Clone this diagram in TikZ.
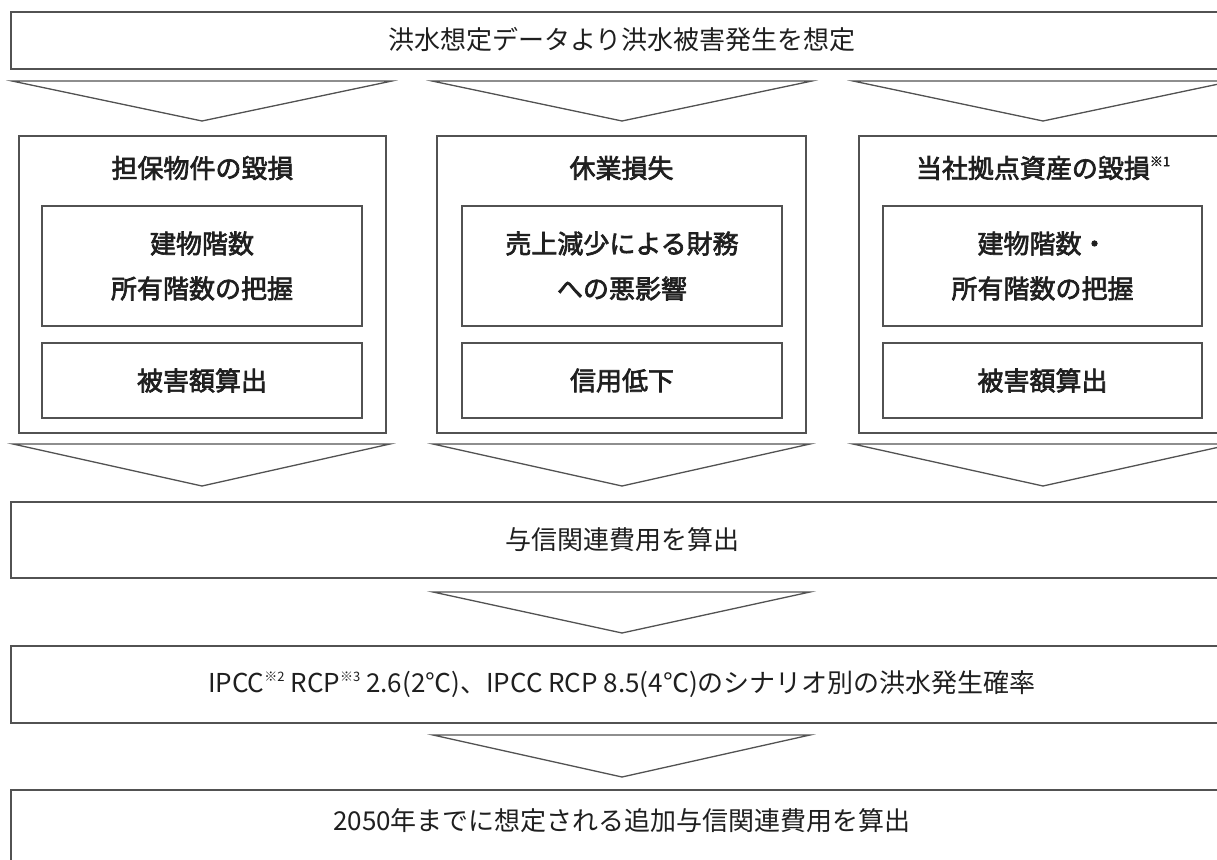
\documentclass[tikz,border=0pt]{standalone}
\usepackage{fontspec}
\setmainfont{Noto Sans CJK JP}
\newfontfamily\jpsemibold[FakeBold=2.5]{Noto Sans CJK JP}
\newcommand{\notemark}[1]{\raisebox{0.45em}{\fontsize{13}{13}\selectfont #1}}
\begin{document}
\begin{tikzpicture}[x=1pt,y=-1pt,
  box/.style={draw=black!68, line width=1.4pt, fill=white, inner sep=0pt},
  chev/.style={draw=black!68, line width=1.3pt, line join=miter, fill=white},
  txt/.style={text=black!88, font=\fontsize{26}{45}\selectfont, inner sep=0pt, align=center},
  btxt/.style={text=black!88, font=\fontsize{26}{45}\selectfont\jpsemibold, inner sep=0pt, align=center}
]
\useasboundingbox (0,0) rectangle (1217,859);
\clip (0,0) rectangle (1217,859);
% top bar
\node[box, minimum width=1222pt, minimum height=57pt] (top) at (622,40.5) {};
\node[txt] (toptxt) at (622,40) {洪水想定データより洪水被害発生を想定};
% columns
\node[box, minimum width=367pt, minimum height=297pt] (c1) at (202.5,284.5) {};
\node[box, minimum width=369pt, minimum height=297pt] (c2) at (621.5,284.5) {};
\node[box, minimum width=367pt, minimum height=297pt] (c3) at (1042.5,284.5) {};
\node[btxt] (h1) at (202.5,168) {担保物件の毀損};
\node[btxt] (h2) at (621.5,168) {休業損失};
\node[btxt] (h3) at (1043,168) {当社拠点資産の毀損\notemark{※1}};
% inner boxes
\node[box, minimum width=320pt, minimum height=120pt] (a1) at (202,266) {};
\node[box, minimum width=320pt, minimum height=120pt] (a2) at (622,266) {};
\node[box, minimum width=319pt, minimum height=120pt] (a3) at (1042.5,266) {};
\node[btxt] (a1t) at (a1) {建物階数\\所有階数の把握};
\node[btxt] (a2t) at (a2) {売上減少による財務\\への悪影響};
\node[btxt] (a3t) at (a3) {建物階数・\\所有階数の把握};
\node[box, btxt, minimum width=320pt, minimum height=75pt] (b1) at (202,380.5) {被害額算出};
\node[box, btxt, minimum width=320pt, minimum height=75pt] (b2) at (622,380.5) {信用低下};
\node[box, btxt, minimum width=319pt, minimum height=75pt] (b3) at (1042.5,380.5) {被害額算出};
% middle boxes
\node[box, txt, minimum width=1222pt, minimum height=76pt] (mid) at (622,540) {与信関連費用を算出};
\node[box, txt, minimum width=1222pt, minimum height=77pt] (ipcc) at (622,684.5) {IPCC\notemark{※2} RCP\notemark{※3} 2.6(2℃)、IPCC RCP 8.5(4℃)のシナリオ別の洪水発生確率};
\node[box, minimum width=1222pt, minimum height=78pt] (last) at (622,829) {};
\node[txt] (lasttxt) at (622,821) {2050年までに想定される追加与信関連費用を算出};
% chevrons
\draw[chev] (12,81) -- (392,81) -- (202,121) -- cycle;
\draw[chev] (432,81) -- (812,81) -- (622,121) -- cycle;
\draw[chev] (853,81) -- (1233,81) -- (1043,121) -- cycle;
\draw[chev] (13,444) -- (390,444) -- (202,486) -- cycle;
\draw[chev] (433,444) -- (810,444) -- (622,486) -- cycle;
\draw[chev] (853,444) -- (1233,444) -- (1043,486) -- cycle;
\draw[chev] (433,592) -- (810,592) -- (622,633) -- cycle;
\draw[chev] (433,735) -- (810,735) -- (622,777) -- cycle;
\end{tikzpicture}
\end{document}
